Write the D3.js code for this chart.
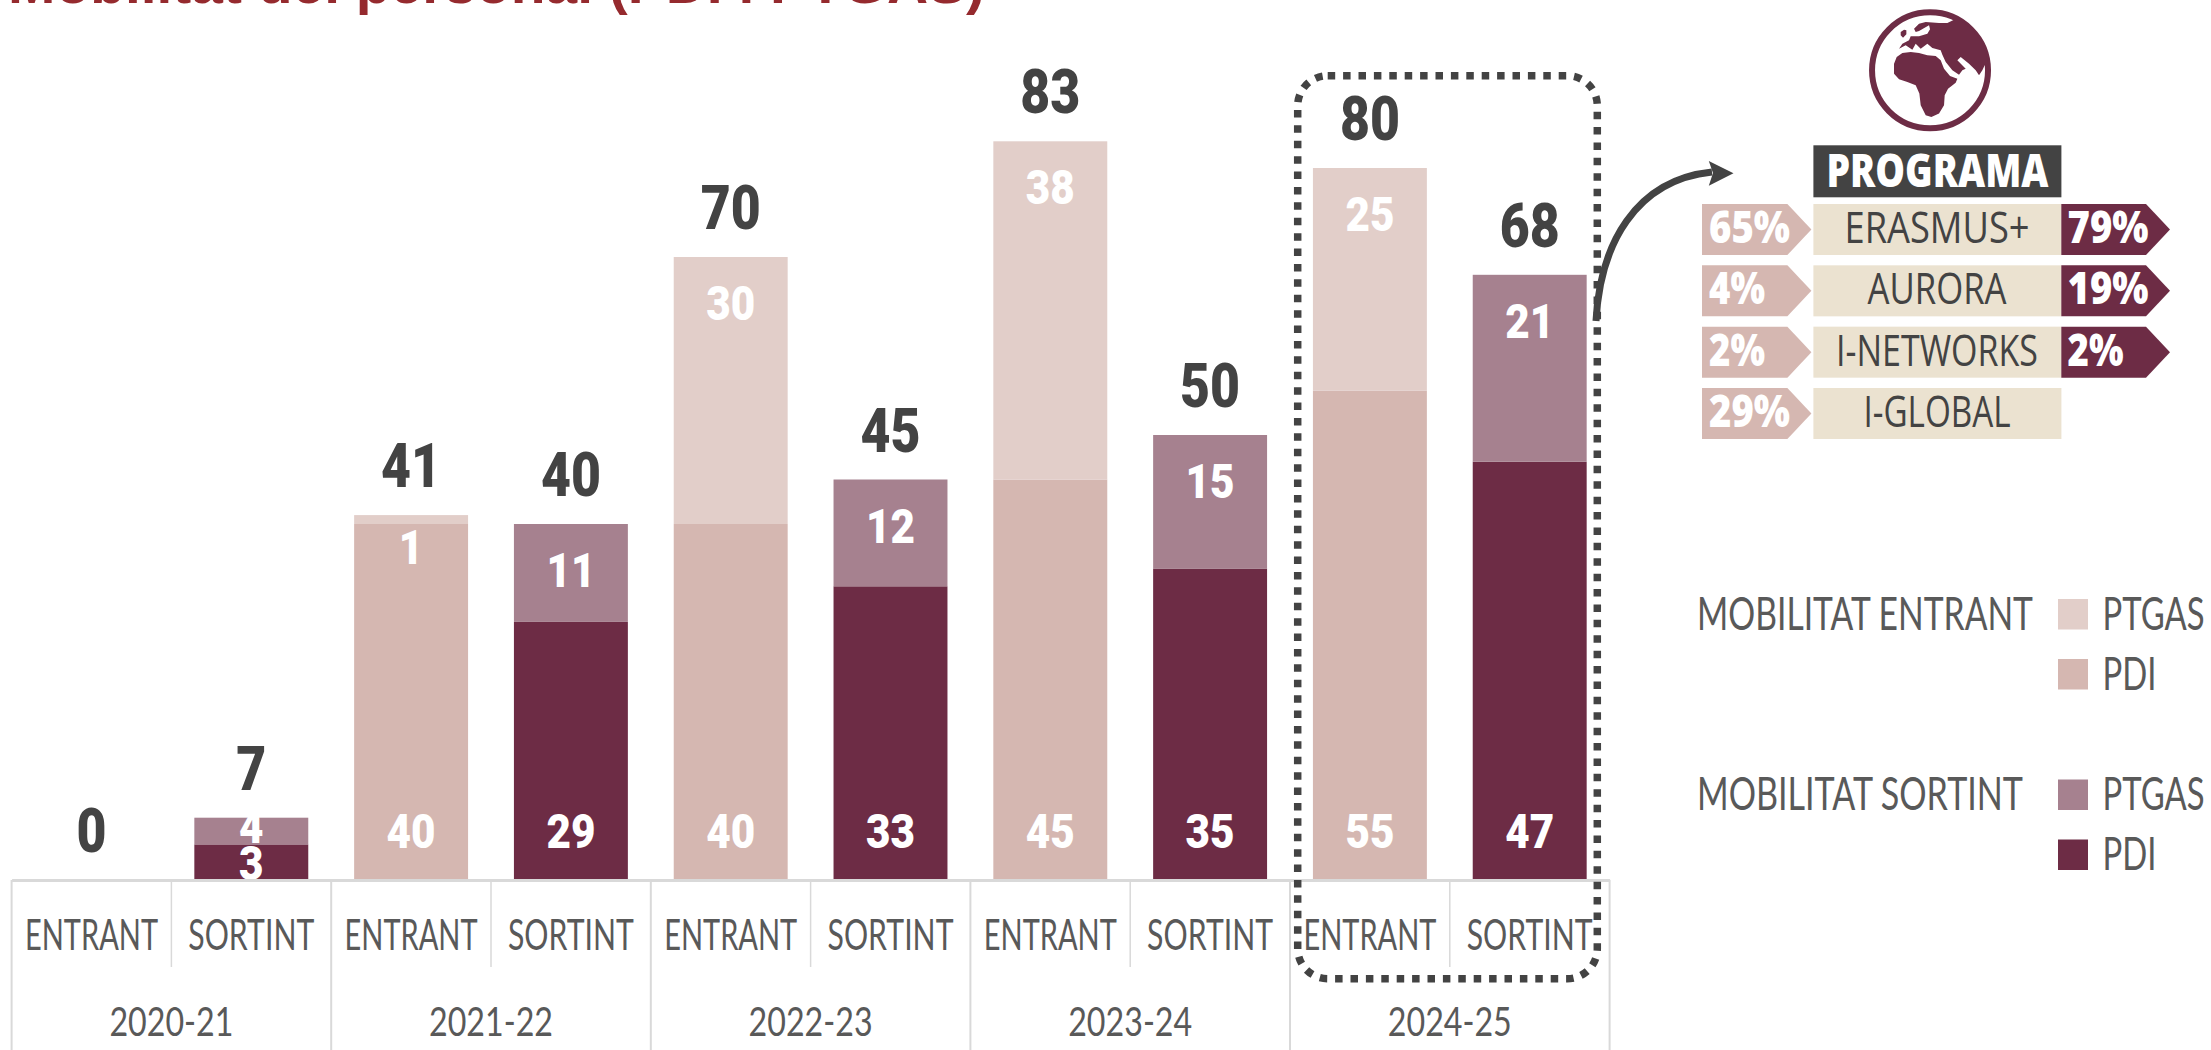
<!DOCTYPE html>
<html lang="ca">
<head>
  <meta charset="UTF-8">
  <title>Mobilitat del personal (PDI i PTGAS)</title>
  <style>
    html, body { margin: 0; padding: 0; background: #fff; overflow: hidden; }
    svg { display: block; }
  </style>
</head>
<body>
  <script src="https://d3js.org/d3.v7.min.js"></script>
  <script>
    // values
    const years = ["2020-21", "2021-22", "2022-23", "2023-24", "2024-25"];
    const directions = ["ENTRANT", "SORTINT"];
    const entrantPdi = [0, 40, 40, 45, 55];
    const entrantPtgas = [0, 1, 30, 38, 25];
    const sortintPdi = [4, 29, 33, 35, 47];
    const sortintPtgas = [3, 11, 12, 15, 21];
    // the 2020-21 sortint labels do not agree with the bar heights in the original
    const sortintPdiLabels = [3, 29, 33, 35, 47];
    const sortintPtgasLabels = [4, 11, 12, 15, 21];

    const programmes = ["ERASMUS+", "AURORA", "I-NETWORKS", "I-GLOBAL"];
    const programmeEntrant = ["65%", "4%", "2%", "29%"];
    const programmeSortint = ["79%", "19%", "2%", null];

    const width = 2211, height = 1050;
    const colors = { entrantPtgas: "#e2cec9", entrantPdi: "#d5b7b1", sortintPtgas: "#a6818f", sortintPdi: "#6d2c45" };
    const dark = "#434343", grey = "#595959", line = "#d9d9d9", beige = "#ebe2d0";
    const headFont = "Roboto, sans-serif", bodyFont = "Lato, sans-serif", panelFont = "'Open Sans', sans-serif";

    const svg = d3.select("body").append("svg")
      .attr("width", width)
      .attr("height", height);

    // text squeezed to a known width, the original uses a condensed face
    function txt(g, str, x, y, size, w, o = {}) {
      return g.append("text")
        .attr("x", x).attr("y", y)
        .attr("text-anchor", o.anchor || "middle")
        .attr("font-family", o.font || bodyFont)
        .attr("font-weight", o.weight || 400)
        .attr("font-size", size)
        .attr("fill", o.fill || grey)
        .attr("textLength", w)
        .attr("lengthAdjust", "spacingAndGlyphs")
        .text(str);
    }

    // rows: one per year and direction
    const rows = years.flatMap((year, i) => [
      { key: year + "|" + directions[0], dir: "entrant", pdi: entrantPdi[i], ptgas: entrantPtgas[i], pdiLabel: entrantPdi[i], ptgasLabel: entrantPtgas[i] },
      { key: year + "|" + directions[1], dir: "sortint", pdi: sortintPdi[i], ptgas: sortintPtgas[i], pdiLabel: sortintPdiLabels[i], ptgasLabel: sortintPtgasLabels[i] }
    ]);

    const x = d3.scaleBand()
      .domain(rows.map(d => d.key))
      .range([11.6, 1609.6])
      .paddingInner(0.287)
      .paddingOuter(0.1435);

    const y = d3.scaleLinear().domain([0, 90]).range([880, 79]);

    // title, cut off by the top edge
    txt(svg, "Mobilitat del personal (PDI i PTGAS)", 8, 3, 56, 977, { anchor: "start", font: "'Liberation Sans', sans-serif", weight: 700, fill: "#952a2e" });

    // stacked bars
    const series = d3.stack().keys(["pdi", "ptgas"])(rows);
    svg.append("g").selectAll("g")
      .data(series)
      .join("g")
      .selectAll("rect")
      .data(s => s.map(d => ({ d, key: s.key })))
      .join("rect")
      .attr("x", p => x(p.d.data.key))
      .attr("width", x.bandwidth())
      .attr("y", p => y(p.d[1]))
      .attr("height", p => y(p.d[0]) - y(p.d[1]))
      .attr("fill", p => colors[p.d.data.dir + (p.key === "pdi" ? "Pdi" : "Ptgas")]);

    // labels inside the bars
    const inner = svg.append("g");
    rows.forEach(d => {
      const cx = x(d.key) + x.bandwidth() / 2;
      const top = y(d.pdi + d.ptgas);
      if (d.pdi > 0) {
        const by = d.pdi < 10 ? y(0) : 848;
        txt(inner, d.pdiLabel, cx, by, 49, String(d.pdiLabel).length * 24.5, { font: headFont, weight: 900, fill: "#fff" });
      }
      if (d.ptgas > 0) {
        const off = d.ptgas === 1 ? 49 : d.ptgas === 3 ? 25 : 63;
        txt(inner, d.ptgasLabel, cx, top + off, 49, String(d.ptgasLabel).length * 24.5, { font: headFont, weight: 900, fill: "#fff" });
      }
      const total = d.pdi + d.ptgas;
      txt(inner, total, cx, top - 28, 62, String(total).length * 30, { font: headFont, weight: 900, fill: dark });
    });

    // axis with the two label levels
    const axis = svg.append("g")
      .attr("transform", `translate(0,${y(0)})`)
      .call(d3.axisBottom(x).tickSize(0).tickSizeOuter(0).tickFormat(k => k.split("|")[1]));
    axis.select(".domain").attr("stroke", line).attr("stroke-width", 3);
    axis.selectAll(".tick text")
      .attr("y", 69.5).attr("dy", 0)
      .attr("font-family", bodyFont)
      .attr("font-size", 43)
      .attr("fill", grey)
      .attr("textLength", k => k.endsWith("ENTRANT") ? 133 : 126)
      .attr("lengthAdjust", "spacingAndGlyphs");

    const gap = (x.step() - x.bandwidth()) / 2;
    const seps = svg.append("g").attr("stroke", line);
    years.forEach(yr => {
      const left = x(yr + "|ENTRANT") - gap;
      const mid = x(yr + "|SORTINT") - gap;
      seps.append("line").attr("x1", left).attr("x2", left).attr("y1", y(0)).attr("y2", height).attr("stroke-width", 2);
      seps.append("line").attr("x1", mid).attr("x2", mid).attr("y1", y(0)).attr("y2", 967).attr("stroke-width", 1.5);
      txt(svg, yr, mid, 1035.5, 41, 124);
    });
    seps.append("line").attr("x1", 1609.6).attr("x2", 1609.6).attr("y1", y(0)).attr("y2", height).attr("stroke-width", 2);

    // dotted frame round the last year
    svg.append("rect")
      .attr("x", 1297.7).attr("y", 75.7)
      .attr("width", 299.6).attr("height", 903)
      .attr("rx", 30).attr("ry", 30)
      .attr("fill", "none")
      .attr("stroke", dark)
      .attr("stroke-width", 7.5)
      .attr("stroke-dasharray", "7.5 7.9");

    // arrow to the panel
    svg.append("path")
      .attr("d", "M1596,321 C1600,245 1635,180 1712,172")
      .attr("fill", "none").attr("stroke", dark).attr("stroke-width", 7);
    svg.append("path")
      .attr("d", "M1733.5,173.3 L1708.8,161 L1713,173 L1708.8,185.7 Z")
      .attr("fill", dark);

    // globe icon, traced
    const globe = svg.append("g").attr("transform", "translate(1860.7,5.3) scale(0.3333)");
    svg.append("defs").append("clipPath").attr("id", "globe-clip")
      .append("circle").attr("cx", 208).attr("cy", 195).attr("r", 175);
    globe.append("circle").attr("cx", 208).attr("cy", 195).attr("r", 174)
      .attr("fill", "#fff").attr("stroke", colors.sortintPdi).attr("stroke-width", 18);
    globe.append("path")
      .attr("clip-path", "url(#globe-clip)")
      .attr("fill", colors.sortintPdi)
      .attr("d", "M100,175 L108,155 L125,143 L150,140 L175,143 L200,150 L225,152 L240,165 L250,190 L268,212 L290,220 L285,232 L262,250 L252,270 L250,300 L235,325 L212,335 L195,330 L180,300 L176,265 L165,240 L140,230 L115,222 L100,205 Z "
        + "M280,43 L260,53 L235,53 L195,50 L175,55 L160,70 L165,80 L175,77 L205,60 L208,72 L200,85 L175,93 L150,93 L145,105 L125,115 L115,130 L135,120 L155,133 L165,115 L180,130 L200,115 L215,128 L240,135 L245,148 L255,170 L275,195 L295,208 L305,195 L315,190 L290,165 L300,155 L325,175 L345,195 L355,210 L365,195 L372,180 L378,185 L400,180 L400,20 Z "
        + "M120,80 L130,73 L137,75 L137,87 L127,97 L120,90 Z");

    // programme panel
    const panel = svg.append("g");
    panel.append("rect").attr("x", 1813.4).attr("y", 145.3).attr("width", 248).attr("height", 52).attr("fill", dark);
    txt(panel, "PROGRAMA", 1937.4, 187.3, 46, 222, { font: panelFont, weight: 800, fill: "#fff" });

    const rowY = d3.scalePoint().domain(programmes).range([204, 388]);
    const rowH = 51, shoulder = 24;
    const pentagon = (x0, x1, top) =>
      `M${x0},${top} L${x1 - shoulder},${top} L${x1},${top + rowH / 2} L${x1 - shoulder},${top + rowH} L${x0},${top + rowH} Z`;

    programmes.forEach((name, i) => {
      const top = rowY(name);
      const base = top + 39;
      panel.append("rect").attr("x", 1813.4).attr("y", top).attr("width", 248).attr("height", rowH).attr("fill", beige);
      txt(panel, name, 1937, base, 44, [185, 139, 202, 147][i], { font: panelFont, fill: dark });
      panel.append("path").attr("d", pentagon(1702, 1811.4, top)).attr("fill", colors.entrantPdi);
      txt(panel, programmeEntrant[i], 1709, base, 44, programmeEntrant[i].length === 3 ? 81 : 56, { anchor: "start", font: panelFont, weight: 800, fill: "#fff" });
      if (programmeSortint[i]) {
        panel.append("path").attr("d", pentagon(2061.3, 2170, top)).attr("fill", colors.sortintPdi);
        txt(panel, programmeSortint[i], 2067.5, base, 44, programmeSortint[i].length === 3 ? 81 : 56, { anchor: "start", font: panelFont, weight: 800, fill: "#fff" });
      }
    });

    // legend
    const legend = svg.append("g");
    const legendGroups = [
      { title: "MOBILITAT ENTRANT", w: 336, base: 629.5, ptgas: colors.entrantPtgas, pdi: colors.entrantPdi },
      { title: "MOBILITAT SORTINT", w: 326, base: 810, ptgas: colors.sortintPtgas, pdi: colors.sortintPdi }
    ];
    legendGroups.forEach(g => {
      txt(legend, g.title, 1697, g.base, 47, g.w, { anchor: "start" });
      [["PTGAS", g.ptgas, 0, 102], ["PDI", g.pdi, 60, 54]].forEach(([name, col, dy, w]) => {
        legend.append("rect").attr("x", 2058).attr("y", g.base + dy - 30.5).attr("width", 30).attr("height", 30.5).attr("fill", col);
        txt(legend, name, 2102.6, g.base + dy, 47, w, { anchor: "start" });
      });
    });
  </script>
</body>
</html>
